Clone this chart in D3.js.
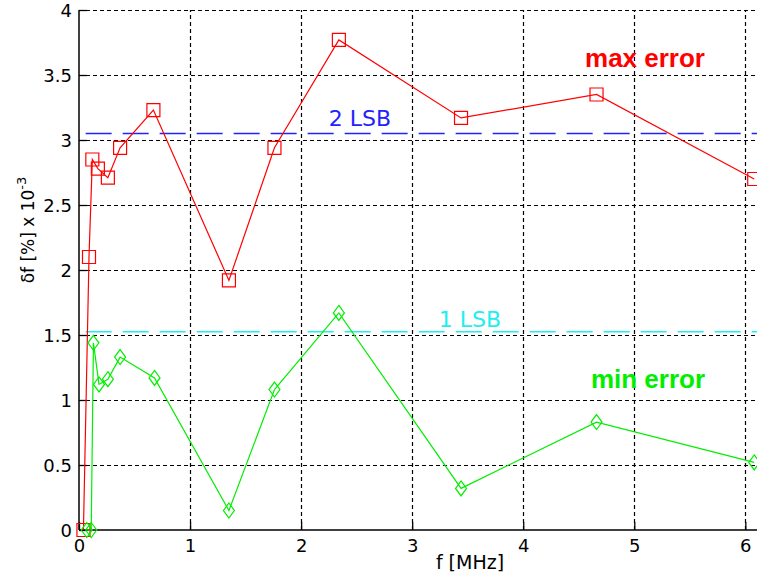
<!DOCTYPE html>
<html><head><meta charset="utf-8">
<script src="https://cdn.jsdelivr.net/npm/d3@7"></script>
<style>
body{margin:0;background:#fff;}
text{font-family:"DejaVu Sans","Liberation Sans",Arial,sans-serif;}
text.lab{font-family:"Liberation Sans",Arial,sans-serif;}
</style></head>
<body>
<svg id="c" width="757" height="577"></svg>
<script>
const maxX = [0.04, 0.09, 0.12, 0.17, 0.26, 0.37, 0.67, 1.35, 1.76, 2.34, 3.44, 4.66, 6.08];
const maxY = [0, 2.1, 2.85, 2.78, 2.71, 2.94, 3.23, 1.92, 2.94, 3.77, 3.17, 3.35, 2.7];
const minX = [0.07, 0.11, 0.13, 0.18, 0.26, 0.37, 0.68, 1.35, 1.76, 2.34, 3.44, 4.66, 6.08];
const minY = [0, 0, 1.44, 1.12, 1.16, 1.33, 1.17, 0.15, 1.08, 1.67, 0.32, 0.83, 0.52];
const lsbLevels = [3.05, 1.525];
const lsbLabels = ["2 LSB", "1 LSB"];
const xTicks = [0, 1, 2, 3, 4, 5, 6];
const yTicks = [0, 0.5, 1, 1.5, 2, 2.5, 3, 3.5, 4];

const svg = d3.select("#c");
const x = d3.scaleLinear().domain([0, 6.15]).range([79, 762]);
const y = d3.scaleLinear().domain([0, 4]).range([530, 10]);
const x0 = x(0), x1 = 762, y0 = y(0), y1 = y(4);

// grid
const g = svg.append("g");
g.selectAll(".gx").data(xTicks.slice(1)).enter().append("line")
  .attr("x1", d => Math.round(x(d)) + 0.5).attr("x2", d => Math.round(x(d)) + 0.5)
  .attr("y1", y0).attr("y2", y1)
  .attr("stroke", "#000").attr("stroke-width", 1.2).attr("stroke-dasharray", "4,3");
g.selectAll(".gy").data(yTicks.slice(1)).enter().append("line")
  .attr("y1", d => Math.round(y(d)) + 0.5).attr("y2", d => Math.round(y(d)) + 0.5)
  .attr("x1", x0).attr("x2", x1)
  .attr("stroke", "#000").attr("stroke-width", 1.2).attr("stroke-dasharray", "4,3");

// axes
const xAxis = d3.axisBottom(x).tickValues(xTicks).tickSizeInner(-8).tickSizeOuter(0).tickFormat(d3.format("d"));
const yAxis = d3.axisLeft(y).tickValues(yTicks).tickSizeInner(-8).tickSizeOuter(0).tickFormat(d => d);
const ax = svg.append("g").attr("transform", `translate(0,${y0})`).call(xAxis);
const ay = svg.append("g").attr("transform", `translate(${x0},0)`).call(yAxis);
[ax, ay].forEach(a => {
  a.select(".domain").attr("stroke", "#000").attr("stroke-width", 1.5);
  a.selectAll(".tick line").attr("stroke", "#000").attr("stroke-width", 1.3);
  a.selectAll("text").attr("font-size", 18).attr("fill", "#000");
});
ax.select(".domain").attr("d", `M${x0},0H${x1}`);
ay.select(".domain").attr("d", `M0,${y0}V${y1}`);
ax.selectAll("text").attr("dy", 0).attr("y", 22);
ay.selectAll("text").attr("x", -7).attr("dy", "0.36em");

// LSB lines
const lsbColors = ["#2222ff", "#22eeee"];
svg.selectAll(".lsb").data(lsbLevels).enter().append("line")
  .attr("x1", x(0.06)).attr("x2", 757)
  .attr("y1", d => y(d)).attr("y2", d => y(d))
  .attr("stroke", (d, i) => lsbColors[i]).attr("stroke-width", 1.5)
  .attr("stroke-dasharray", "26,11");
svg.append("text").attr("x", 360).attr("y", 126).attr("text-anchor", "middle")
  .attr("font-size", 22).attr("fill", lsbColors[0]).text(lsbLabels[0]);
svg.append("text").attr("x", 470).attr("y", 327).attr("text-anchor", "middle")
  .attr("font-size", 22).attr("fill", lsbColors[1]).text(lsbLabels[1]);

// series
function series(xs, ys, color, marker) {
  const pts = xs.map((v, i) => [v, ys[i]]);
  svg.append("path").datum(pts)
    .attr("d", d3.line().x(d => x(d[0])).y(d => y(d[1])))
    .attr("fill", "none").attr("stroke", color).attr("stroke-width", 1.2);
  const s = 6.5;
  svg.selectAll(null).data(pts).enter().append("path")
    .attr("d", d => {
      const cx = x(d[0]), cy = y(d[1]);
      if (marker === "square") return `M${cx - s},${cy - s}h${2 * s}v${2 * s}h${-2 * s}Z`;
      return `M${cx},${cy - 7.5}L${cx + 5.5},${cy}L${cx},${cy + 7.5}L${cx - 5.5},${cy}Z`;
    })
    .attr("fill", "none").attr("stroke", color).attr("stroke-width", 1.2);
}
series(maxX, maxY, "#ff0000", "square");
series(minX, minY, "#00ee00", "diamond");

svg.append("text").attr("class", "lab").attr("x", 645).attr("y", 67).attr("text-anchor", "middle")
  .attr("font-size", 26).attr("font-weight", "bold").attr("fill", "#ff0000").text("max error");
svg.append("text").attr("class", "lab").attr("x", 648).attr("y", 388).attr("text-anchor", "middle")
  .attr("font-size", 26).attr("font-weight", "bold").attr("fill", "#00ee00").text("min error");

// axis labels
svg.append("text").attr("x", 470).attr("y", 569).attr("text-anchor", "middle")
  .attr("font-size", 19).attr("fill", "#000").text("f [MHz]");
const yl = svg.append("text").attr("transform", "translate(34,230) rotate(-90)")
  .attr("text-anchor", "middle").attr("font-size", 17).attr("fill", "#000");
yl.append("tspan").text("\u03B4f  [%] x 10");
yl.append("tspan").attr("dy", -8).attr("font-size", 13).text("-3");
</script>
</body></html>
